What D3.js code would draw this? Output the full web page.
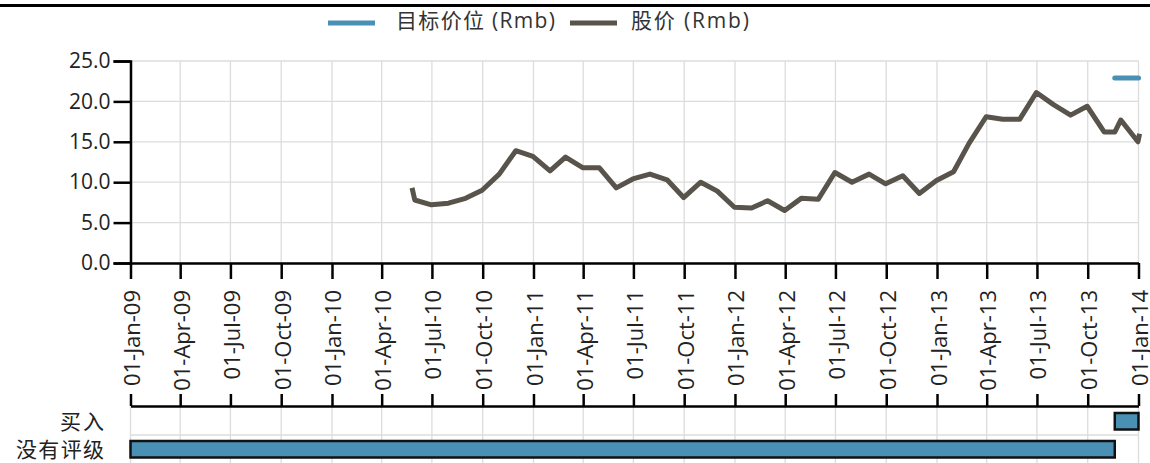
<!DOCTYPE html>
<html>
<head>
<meta charset="utf-8">
<script src="https://cdn.jsdelivr.net/npm/d3@7"></script>
<style>
  html, body { margin: 0; padding: 0; background: #fff; }
  svg { display: block; }
  text { font-family: "Open Sans", "Noto Sans CJK SC", sans-serif; }
</style>
</head>
<body>
<svg id="chart" width="1150" height="463"></svg>
<script>
// Share price (Rmb), month-end closes
const priceDates = [
  "2010-05-26","2010-05-31","2010-06-30","2010-07-31","2010-08-31","2010-09-30",
  "2010-10-31","2010-11-30","2010-12-31","2011-01-31","2011-02-28","2011-03-31",
  "2011-04-30","2011-05-31","2011-06-30","2011-07-31","2011-08-31","2011-09-30",
  "2011-10-31","2011-11-30","2011-12-31","2012-01-31","2012-02-29","2012-03-31",
  "2012-04-30","2012-05-31","2012-06-30","2012-07-31","2012-08-31","2012-09-30",
  "2012-10-31","2012-11-30","2012-12-31","2013-01-31","2013-02-28","2013-03-31",
  "2013-04-30","2013-05-31","2013-06-30","2013-07-31","2013-08-31","2013-09-30",
  "2013-10-31","2013-11-19","2013-11-30","2013-12-31","2014-01-03"
];
const priceValues = [
  9.3, 7.8, 7.2, 7.4, 8.0, 9.0,
  11.0, 13.9, 13.2, 11.4, 13.1, 11.8,
  11.8, 9.3, 10.4, 11.0, 10.3, 8.1,
  10.0, 8.9, 6.9, 6.8, 7.7, 6.5,
  8.0, 7.9, 11.2, 10.0, 11.0, 9.8,
  10.8, 8.6, 10.2, 11.3, 14.8, 18.1,
  17.8, 17.8, 21.1, 19.6, 18.3, 19.4,
  16.2, 16.2, 17.7, 15.0, 16.0
];

// Target price (Rmb)
const targetDates = ["2013-11-19", "2014-01-01"];
const targetValues = [22.9, 22.9];

// Rating history
const ratingCategories = ["买入", "没有评级"];
const ratingNames = ["没有评级", "买入"];
const ratingFrom = ["2009-01-01", "2013-11-19"];
const ratingTo = ["2013-11-19", "2014-01-01"];

const yTicks = [0, 5, 10, 15, 20, 25];
const legendLabels = ["目标价位 (Rmb)", "股价 (Rmb)"];

const parse = d3.utcParse("%Y-%m-%d");
const price = priceDates.map((d, i) => ({ date: parse(d), value: priceValues[i] }));
const target = targetDates.map((d, i) => ({ date: parse(d), value: targetValues[i] }));
const ratings = ratingNames.map((n, i) => ({ name: n, from: parse(ratingFrom[i]), to: parse(ratingTo[i]) }));

const svg = d3.select("#chart");
const colPrice = "#58534b";
const colTarget = "#4a8fb6";
const gridCol = "#dcdcdc";

const plotLeft = 130.5, plotRight = 1138.5, plotTop = 61, plotBottom = 263;

const x = d3.scaleUtc()
  .domain([parse("2009-01-01"), parse("2014-01-01")])
  .range([plotLeft, plotRight]);
const y = d3.scaleLinear().domain([0, 25]).range([plotBottom, plotTop]);
const xTicks = d3.utcMonth.every(3).range(parse("2009-01-01"), parse("2014-01-02"));

// Header rule
svg.append("line")
  .attr("x1", 0).attr("x2", 1150).attr("y1", 5.5).attr("y2", 5.5)
  .attr("stroke", "#000").attr("stroke-width", 3);

// Legend
const legend = svg.append("g");
const legendItems = [
  { label: legendLabels[0], color: colTarget, sx: 328, tx: 396, w: 159 },
  { label: legendLabels[1], color: colPrice, sx: 570, tx: 631, w: 118 }
];
legendItems.forEach(it => {
  legend.append("line")
    .attr("x1", it.sx).attr("x2", it.sx + 47).attr("y1", 23).attr("y2", 23)
    .attr("stroke", it.color).attr("stroke-width", 5);
  legend.append("text")
    .attr("x", it.tx).attr("y", 20)
    .attr("dominant-baseline", "central")
    .attr("font-size", 21).attr("fill", "#333")
    .attr("textLength", it.w).attr("lengthAdjust", "spacing")
    .text(it.label);
});

// Grid (main panel)
const grid = svg.append("g");
grid.selectAll("line.v").data(xTicks).join("line")
  .attr("x1", d => x(d)).attr("x2", d => x(d))
  .attr("y1", plotTop).attr("y2", plotBottom)
  .attr("stroke", gridCol).attr("stroke-width", 1.3);
grid.selectAll("line.h").data(yTicks).join("line")
  .attr("x1", plotLeft).attr("x2", plotRight)
  .attr("y1", d => y(d)).attr("y2", d => y(d))
  .attr("stroke", gridCol).attr("stroke-width", 1.3);

// Y axis
const yAxis = svg.append("g")
  .attr("transform", `translate(${plotLeft},0)`)
  .call(d3.axisLeft(y).tickValues(yTicks).tickFormat(d3.format(".1f")).tickSize(17).tickPadding(3));
yAxis.select(".domain").attr("stroke-width", 2.5);
yAxis.selectAll(".tick line").attr("stroke-width", 2.5);
yAxis.selectAll("text").attr("font-size", 21).attr("fill", "#222").attr("font-family", "Open Sans");

// X axis
const xAxis = svg.append("g")
  .attr("transform", `translate(0,${plotBottom})`)
  .call(d3.axisBottom(x).tickValues(xTicks).tickFormat(d3.utcFormat("%d-%b-%y")).tickSize(16).tickSizeOuter(0));
xAxis.select(".domain").attr("stroke-width", 2.5);
xAxis.selectAll(".tick line").attr("stroke-width", 2.5);
xAxis.selectAll("text")
  .attr("font-size", 22).attr("fill", "#222").attr("font-family", "Open Sans")
  .attr("text-anchor", "end")
  .attr("dominant-baseline", "central")
  .attr("transform", "rotate(-90)")
  .attr("x", -27).attr("y", 0).attr("dy", null);

// Price line
svg.append("path")
  .datum(price)
  .attr("fill", "none")
  .attr("stroke", colPrice)
  .attr("stroke-width", 5)
  .attr("stroke-linejoin", "round")
  .attr("d", d3.line().x(d => x(d.date)).y(d => y(d.value)));

// Target price line
svg.append("path")
  .datum(target)
  .attr("fill", "none")
  .attr("stroke", colTarget)
  .attr("stroke-width", 5)
  .attr("stroke-linecap", "round")
  .attr("d", d3.line().x(d => x(d.date)).y(d => y(d.value)));

// Rating panel
const rTop = 406, rBottom = 463;
const band = d3.scaleBand().domain(ratingCategories).range([rTop + 1, rTop + 57]).paddingInner(0).paddingOuter(0);

const rGrid = svg.append("g");
rGrid.selectAll("line.v").data(xTicks).join("line")
  .attr("x1", d => x(d)).attr("x2", d => x(d))
  .attr("y1", rTop).attr("y2", rBottom)
  .attr("stroke", gridCol).attr("stroke-width", 1.3);
rGrid.selectAll("line.h").data(ratingCategories.slice(1)).join("line")
  .attr("x1", plotLeft).attr("x2", plotRight)
  .attr("y1", d => band(d)).attr("y2", d => band(d))
  .attr("stroke", gridCol).attr("stroke-width", 1.3);

svg.append("g").selectAll("rect").data(ratings).join("rect")
  .attr("x", d => x(d.from))
  .attr("width", d => x(d.to) - x(d.from))
  .attr("y", d => band(d.name) + band.bandwidth() * 0.5 - 8)
  .attr("height", 16.5)
  .attr("fill", "#4a90b4")
  .attr("stroke", "#111")
  .attr("stroke-width", 2.5);

const rAxis = svg.append("g")
  .attr("transform", `translate(0,${rTop})`)
  .call(d3.axisTop(x).tickValues(xTicks).tickFormat("").tickSize(12).tickSizeOuter(0));
rAxis.select(".domain").attr("stroke-width", 2.5);
rAxis.selectAll(".tick line").attr("stroke-width", 2.5);

svg.append("g").selectAll("text").data(ratingCategories).join("text")
  .attr("x", 104)
  .attr("y", d => band(d) + band.bandwidth() / 2)
  .attr("text-anchor", "end")
  .attr("dominant-baseline", "central")
  .attr("font-family", "Noto Sans CJK SC")
  .attr("font-size", 21)
  .attr("textLength", d => d.length * 22)
  .attr("lengthAdjust", "spacing")
  .attr("fill", "#222")
  .text(d => d);
</script>
</body>
</html>
